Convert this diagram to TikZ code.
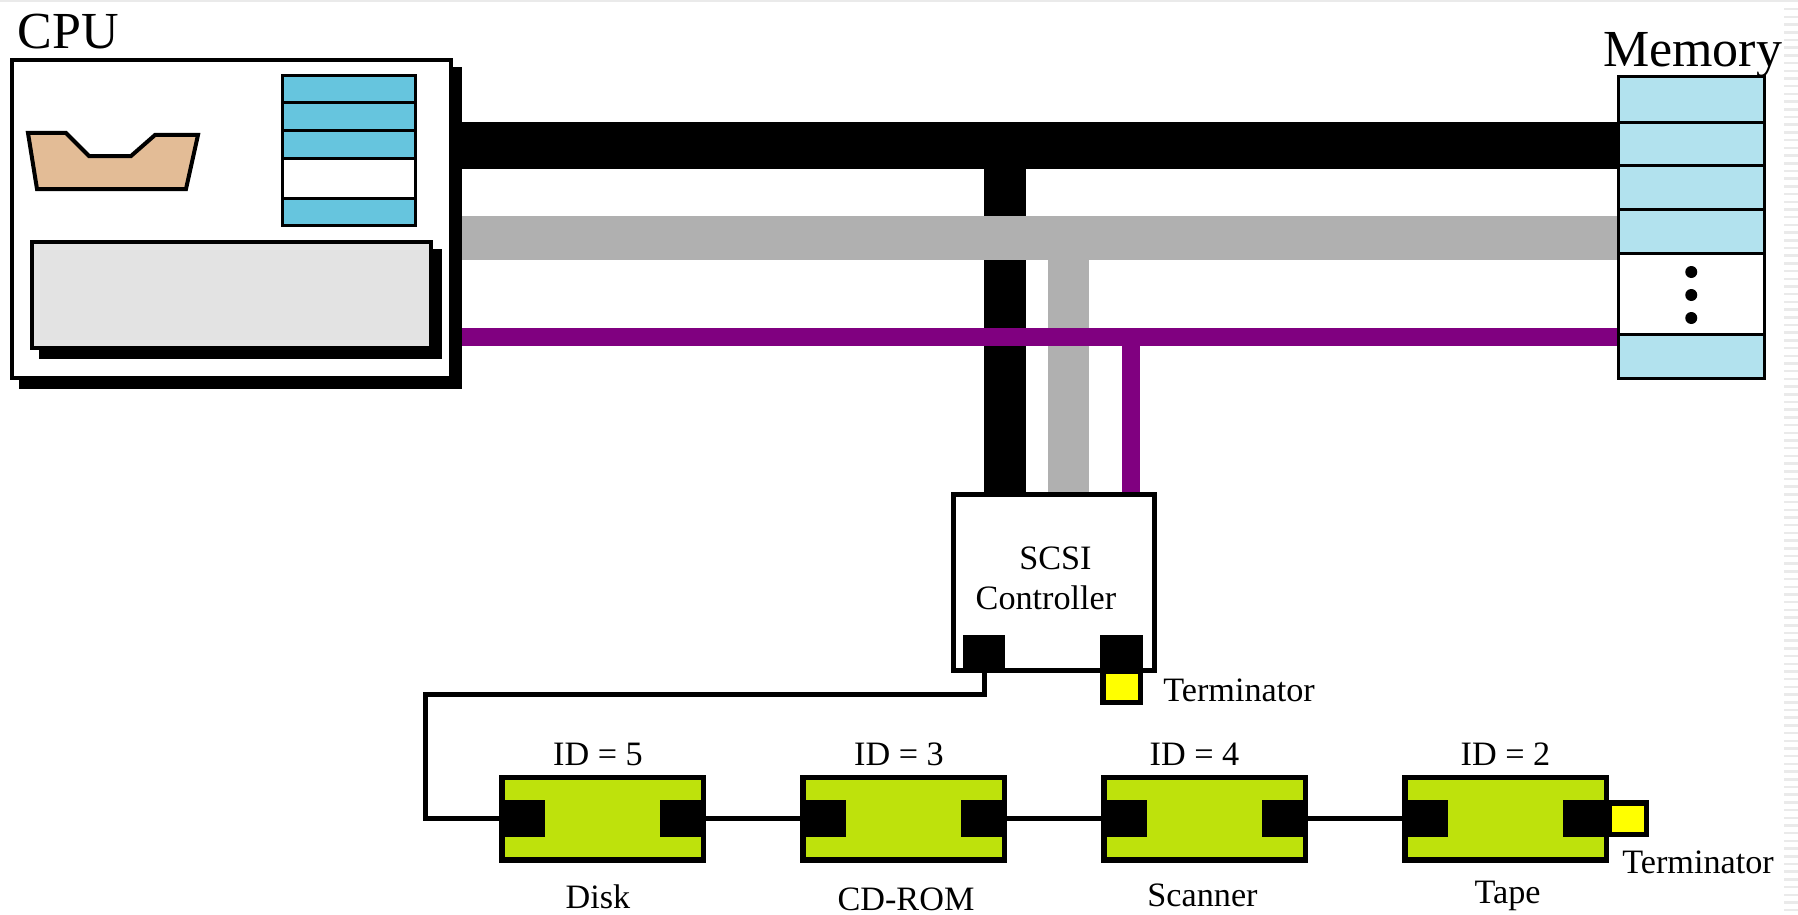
\documentclass[tikz,border=0pt]{standalone}
\usepackage{fontspec}
\setmainfont{Liberation Serif}
\usetikzlibrary{positioning, shadows}
\definecolor{regblue}{HTML}{66C5DE}
\definecolor{memblue}{HTML}{B2E2EE}
\definecolor{alusand}{HTML}{E3BC96}
\definecolor{devlime}{HTML}{BEE20C}
\definecolor{busgray}{HTML}{B0B0B0}
\definecolor{buspurple}{HTML}{800080}
\definecolor{stripe}{HTML}{EAEAEA}
\definecolor{termyellow}{HTML}{FFFF00}
\begin{document}
\begin{tikzpicture}[
      x=0.5pt, y=-0.5pt,
      sec/.style={inner sep=0pt, outer sep=0pt},
      bigcap/.style={sec, font=\fontsize{26}{30}\selectfont, anchor=base west},
      lab/.style={sec, font=\fontsize{17.1}{20}\selectfont},
      shade/.style={copy shadow={shadow xshift=4.5pt, shadow yshift=-4.5pt, fill=black, draw=black}},
      cpubox/.style={draw, line width=2pt, fill=white, inner sep=0pt, shade, minimum width=219.5pt, minimum height=159pt},
      cachebox/.style={draw, line width=2pt, fill=black!11, inner sep=0pt, shade, minimum width=199.5pt, minimum height=53pt},
      reg/.style={sec, draw, line width=1.5pt, fill=regblue, minimum width=66.5pt},
      memcell/.style={sec, draw, line width=1.5pt, fill=memblue, minimum width=72.75pt},
      memdot/.style={sec, circle, fill=black, minimum size=6pt},
      ctrlbox/.style={draw, line width=2.5pt, fill=white, inner sep=0pt, minimum width=100.5pt, minimum height=88pt},
      devbox/.style={draw, line width=2.75pt, fill=devlime, inner sep=0pt, minimum width=100.75pt, minimum height=41.25pt},
      devport/.style={sec, fill=black, minimum width=23pt, minimum height=18.5pt},
      termbox/.style={draw, line width=2.75pt, fill=termyellow, inner sep=0pt, minimum width=18.75pt, minimum height=15.75pt},
      cable/.style={line width=2.5pt},
      databus/.style={line width=23.5pt},
      addrbus/.style={busgray, line width=22pt},
      ctlbus/.style={buspurple, line width=9pt},
      node distance=47pt
    ]
    \useasboundingbox (0,0) rectangle (1798,915);
    \fill[stripe] (0,0) rectangle (1798,2.5);
    \foreach \sy in {8,15.7,...,912} \fill[stripe] (1784,\sy) rectangle (1798,\sy+2.5);

    \node[bigcap] (cpulab) at (18,49) {CPU};
    \node[cpubox] (cpu) at (231.5,219) {};
    \coordinate (cpuedge) at ([xshift=4.5pt]cpu.east);
    \draw[line width=2pt, fill=alusand] (28,133) -- (66,133) -- (89,156) -- (131,156) -- (155,135) -- (198,135) -- (186,189) -- (37,189) -- cycle;
    \node[cachebox] (cache) at (231.5,295) {};

    \node[reg, minimum height=13.5pt] (r1) at (348.5,89.5) {};
    \node[reg, minimum height=14pt, below=0pt of r1] (r2) {};
    \node[reg, minimum height=13.5pt, below=0pt of r2] (r3) {};
    \node[reg, minimum height=20pt, fill=white, below=0pt of r3] (r4) {};
    \node[reg, minimum height=13.5pt, below=0pt of r4] (r5) {};

    \node[bigcap] (memlab) at (1603,67) {Memory};
    \node[memcell, minimum height=23pt] (m1) at (1691.25,100) {};
    \node[memcell, minimum height=21pt, below=0pt of m1] (m2) {};
    \node[memcell, minimum height=22pt, below=0pt of m2] (m3) {};
    \node[memcell, minimum height=22pt, below=0pt of m3] (m4) {};
    \node[memcell, minimum height=40.5pt, fill=white, below=0pt of m4] (m5) {};
    \node[memcell, minimum height=22pt, below=0pt of m5] (m6) {};
    \coordinate (memedge) at ([xshift=-0.75pt]m1.west);
    \foreach \dy in {-10.75,0.75,12.25} \node[memdot] at ([yshift=-\dy pt]m5.center) {};

    \node[ctrlbox] (ctrl) at (1054,582) {};
    \node[lab, anchor=base] (scsi) at (1055.5,569) {SCSI};
    \node[lab, anchor=base] (ctrllab) at (1046,609) {Controller};
    \node[devport, minimum width=21pt] (ctrlL) at (984,653.5) {};
    \node[devport, minimum width=21.5pt] (ctrlR) at (1121.5,653.5) {};
    \node[termbox, below=-2pt of ctrlR] (ctrlterm) {};
    \node[lab, anchor=base] (termA) at (1239,701) {Terminator};

    \node[devbox] (disk) at (602.5,818.5) {};
    \node[devbox, right=of disk] (cdrom) {};
    \node[devbox, right=of cdrom] (scanner) {};
    \node[devbox, right=of scanner] (tape) {};
    \foreach \dev in {disk, cdrom, scanner, tape} {
      \node[devport, anchor=west] (\dev L) at (\dev.west) {};
      \node[devport, anchor=east] (\dev R) at (\dev.east) {};
    }
    \node[termbox, right=-1.5pt of tapeR] (tapeterm) {};
    \node[lab, anchor=base] (termB) at (1698,873) {Terminator};

    \node[lab, above=4.5pt of disk, xshift=-2.25pt] (idfive) {ID = 5};
    \node[lab, above=4.5pt of cdrom, xshift=-2.25pt] (idthree) {ID = 3};
    \node[lab, above=4.5pt of scanner, xshift=-5pt] (idfour) {ID = 4};
    \node[lab, above=4.5pt of tape, xshift=0pt] (idtwo) {ID = 2};
    \node[lab, below=11pt of disk, xshift=-2.25pt] (disklab) {Disk};
    \node[lab, below=12.5pt of cdrom, xshift=1.25pt] (cdlab) {CD-ROM};
    \node[lab, below=10.5pt of scanner, xshift=-1pt] (scanlab) {Scanner};
    \node[lab, below=9.5pt of tape, xshift=1pt] (tapelab) {Tape};

    \coordinate (cableturn) at (425.5,694);
    \draw[cable] (ctrlL.south) |- (cableturn) |- (diskL.west);
    \draw[cable] (diskR.east) -- (cdromL.west);
    \draw[cable] (cdromR.east) -- (scannerL.west);
    \draw[cable] (scannerR.east) -- (tapeL.west);

    \coordinate (datatap) at (1005,145.5);
    \coordinate (addrtap) at (1068.5,238);
    \coordinate (ctltap) at (1131,337);
    \draw[databus] (cpuedge |- datatap) -- (memedge |- datatap);
    \draw[databus, line width=21pt] (datatap) -- (datatap |- ctrl.north);
    \draw[addrbus] (cpuedge |- addrtap) -- (memedge |- addrtap);
    \draw[addrbus, line width=20.5pt] (addrtap) -- (addrtap |- ctrl.north);
    \draw[ctlbus] (cpuedge |- ctltap) -- (memedge |- ctltap);
    \draw[ctlbus] (ctltap) -- (ctltap |- ctrl.north);
  \end{tikzpicture}
\end{document}
